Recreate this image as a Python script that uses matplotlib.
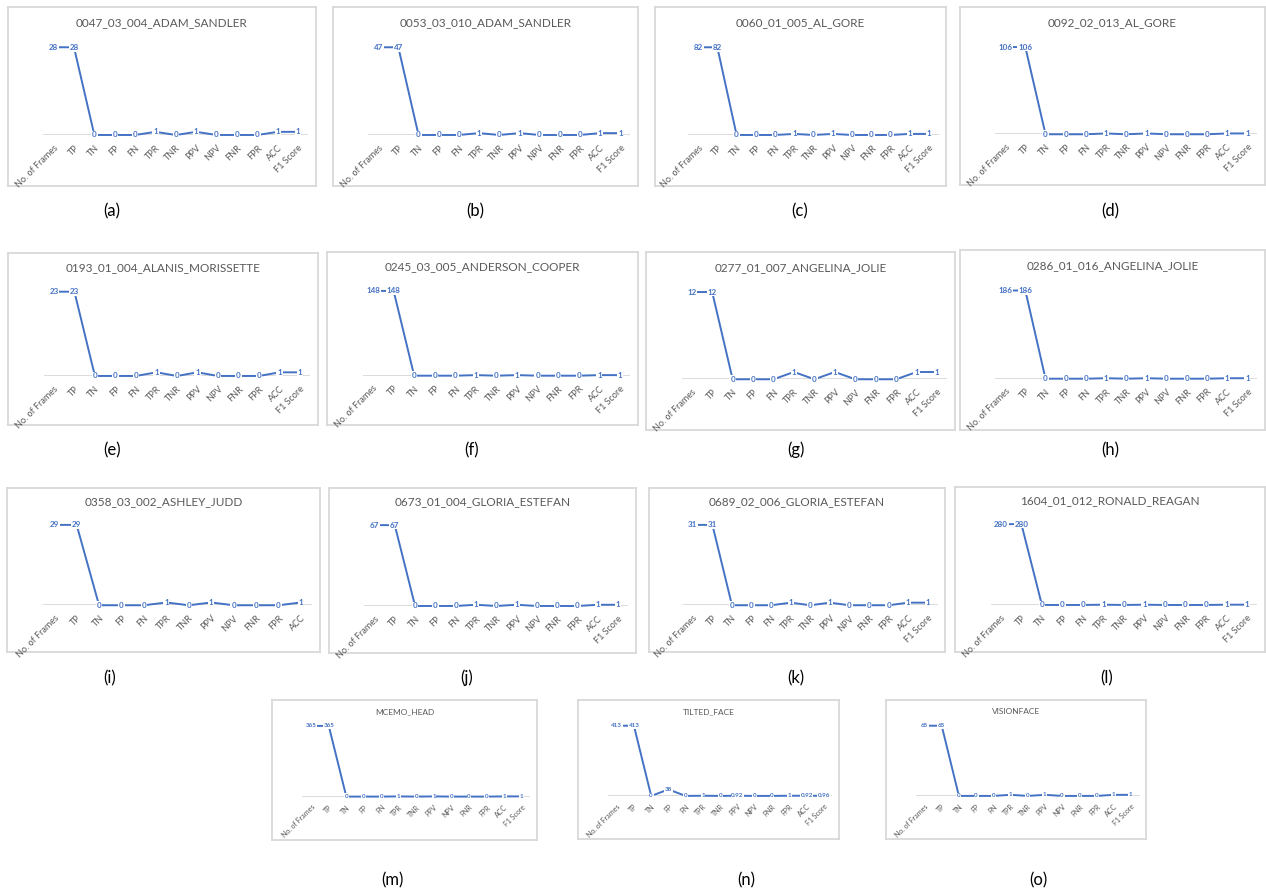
import matplotlib
matplotlib.use("Agg")
import matplotlib.pyplot as plt

plt.rcParams["font.family"] = ["Lato", "DejaVu Sans"]

W, H = 1266, 894

metrics = ["No. of Frames", "TP", "TN", "FP", "FN", "TPR", "TNR",
           "PPV", "NPV", "FNR", "FPR", "ACC", "F1 Score"]

sequences = ["0047_03_004_ADAM_SANDLER", "0053_03_010_ADAM_SANDLER",
             "0060_01_005_AL_GORE", "0092_02_013_AL_GORE",
             "0193_01_004_ALANIS_MORISSETTE", "0245_03_005_ANDERSON_COOPER",
             "0277_01_007_ANGELINA_JOLIE", "0286_01_016_ANGELINA_JOLIE",
             "0358_03_002_ASHLEY_JUDD", "0673_01_004_GLORIA_ESTEFAN",
             "0689_02_006_GLORIA_ESTEFAN", "1604_01_012_RONALD_REAGAN",
             "MCEMO_HEAD", "TILTED_FACE", "VISIONFACE"]
captions = ["(a)", "(b)", "(c)", "(d)", "(e)", "(f)", "(g)", "(h)",
            "(i)", "(j)", "(k)", "(l)", "(m)", "(n)", "(o)"]

# one value per sequence for every metric (None = metric not reported)
n_frames = [28, 47, 82, 106, 23, 148, 12, 186, 29, 67, 31, 280, 365, 413, 65]
tp       = [28, 47, 82, 106, 23, 148, 12, 186, 29, 67, 31, 280, 365, 413, 65]
tn       = [0, 0, 0, 0, 0, 0, 0, 0, 0, 0, 0, 0, 0, 0, 0]
fp       = [0, 0, 0, 0, 0, 0, 0, 0, 0, 0, 0, 0, 0, 38, 0]
fn       = [0, 0, 0, 0, 0, 0, 0, 0, 0, 0, 0, 0, 0, 0, 0]
tpr      = [1, 1, 1, 1, 1, 1, 1, 1, 1, 1, 1, 1, 1, 1, 1]
tnr      = [0, 0, 0, 0, 0, 0, 0, 0, 0, 0, 0, 0, 0, 0, 0]
ppv      = [1, 1, 1, 1, 1, 1, 1, 1, 1, 1, 1, 1, 1, 0.92, 1]
npv      = [0, 0, 0, 0, 0, 0, 0, 0, 0, 0, 0, 0, 0, 0, 0]
fnr      = [0, 0, 0, 0, 0, 0, 0, 0, 0, 0, 0, 0, 0, 0, 0]
fpr      = [0, 0, 0, 0, 0, 0, 0, 0, 0, 0, 0, 0, 0, 1, 0]
acc      = [1, 1, 1, 1, 1, 1, 1, 1, 1, 1, 1, 1, 1, 0.92, 1]
f1       = [1, 1, 1, 1, 1, 1, 1, 1, None, 1, 1, 1, 1, 0.96, 1]

columns = [n_frames, tp, tn, fp, fn, tpr, tnr, ppv, npv, fnr, fpr, acc, f1]

# panel frames in pixels: (left, top, right, bottom)
frames = [(8, 7, 316, 186), (333, 7, 638, 186), (655, 7, 946, 186), (960, 7, 1265, 185),
          (8, 253, 318, 425), (327, 252, 638, 425), (646, 252, 955, 430), (960, 250, 1265, 430),
          (7, 488, 320, 652), (329, 488, 636, 653), (649, 488, 945, 652), (955, 487, 1265, 652),
          (272, 700, 537, 840), (578, 700, 839, 839), (886, 700, 1146, 839)]
caption_xy = [(112, 211), (475, 211), (800, 211), (1110, 211),
              (112, 450), (472, 450), (796, 450), (1110, 450),
              (110, 678), (467, 678), (796, 678), (1107, 678),
              (392, 880), (746, 880), (1038, 880)]

BLUE = "#4472C4"
GREY = "#595959"
LIGHT = "#D9D9D9"

fig = plt.figure(figsize=(W / 100, H / 100), dpi=100)
fig.patch.set_facecolor("white")


def fig_rect(x0, y0, x1, y1):
    return [x0 / W, 1 - y1 / H, (x1 - x0) / W, (y1 - y0) / H]


def fmt(v):
    if float(v).is_integer():
        return str(int(v))
    return f"{v:.2f}"


for k, name in enumerate(sequences):
    x0, y0, x1, y1 = frames[k]
    w, h = x1 - x0, y1 - y0
    small = k >= 12

    # chart border
    frame_ax = fig.add_axes(fig_rect(x0, y0, x1, y1))
    frame_ax.set_xticks([])
    frame_ax.set_yticks([])
    for s in frame_ax.spines.values():
        s.set_color(LIGHT)
        s.set_linewidth(1.3)
    frame_ax.text(0.5, 1 - 0.085, name,
                  transform=frame_ax.transAxes, ha="center", va="center",
                  fontsize=8.5 if not small else 6, color=GREY)

    labels = [m for m, col in zip(metrics, columns) if col[k] is not None]
    values = [col[k] for col in columns if col[k] is not None]
    n = len(values)

    top_f = 0.225 if not small else 0.185
    base_f = 0.715 if not small else 0.69
    pl = x0 + 0.115 * w
    pr = x0 + 0.975 * w
    ax = fig.add_axes(fig_rect(pl, y0 + top_f * h, pr, y0 + base_f * h))
    ax.set_xlim(-0.5, n - 0.5)
    ax.set_ylim(0, max(values))
    for s in ax.spines.values():
        s.set_visible(False)
    ax.set_facecolor("none")
    ax.set_yticks([])
    ax.axhline(0, color=LIGHT, lw=1.3, zorder=1)
    ax.plot(range(n), values, color=BLUE, lw=1.4, zorder=2, clip_on=False)
    for i, v in enumerate(values):
        ax.text(i, v, fmt(v), ha="center", va="center",
                fontsize=5.8 if not small else 4.5, color=BLUE, fontweight="bold",
                zorder=5, clip_on=False,
                bbox=dict(boxstyle="square,pad=0.1", fc="white", ec="none"))
    ax.set_xticks(range(n))
    ax.set_xticklabels(labels, rotation=45, ha="right", va="top",
                       rotation_mode="anchor",
                       fontsize=6.5 if not small else 5, color=GREY)
    ax.tick_params(axis="x", length=0, pad=6 if not small else 5)

    cx, cy = caption_xy[k]
    fig.text(cx / W, 1 - cy / H, captions[k], ha="center", va="center",
             fontsize=12, color="black")

fig.savefig("out.png", dpi=100, facecolor="white")
